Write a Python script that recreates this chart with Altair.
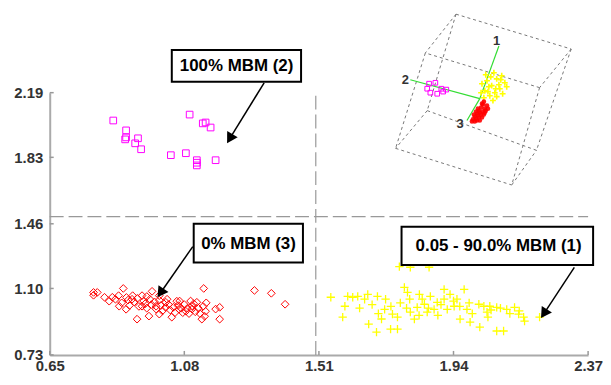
import altair as alt
import pandas as pd

X_TICKS = [0.65, 1.08, 1.51, 1.94, 2.37]
Y_TICKS = [0.73, 1.10, 1.46, 1.83, 2.19]

# 100% MBM (2) - magenta squares
mag_x = [0.853, 0.894, 0.894, 0.891, 0.923, 0.932, 0.942, 1.037, 1.085, 1.097, 1.139, 1.148, 1.164, 1.120, 1.120, 1.120, 1.180]
mag_y = [2.035, 1.980, 1.941, 1.930, 1.908, 1.936, 1.875, 1.842, 1.853, 2.068, 2.019, 2.024, 1.996, 1.814, 1.800, 1.785, 1.814]

# 0% MBM (3) - red diamonds
red_x = [0.790, 0.790, 0.802, 0.825, 0.840, 0.850, 0.885, 0.872, 0.894, 0.913, 0.929, 0.945, 0.967, 0.977, 0.990,
         1.000, 1.021, 1.040, 1.056, 1.063, 1.085, 1.104, 1.120, 1.136, 1.142, 1.148, 1.193, 1.193, 1.304, 1.358, 1.402,
         0.880, 0.900, 0.905, 0.920, 0.930, 0.935, 0.950, 0.955, 0.960, 0.970, 0.975, 0.985, 0.990, 1.000, 1.005, 1.010,
         1.020, 1.030, 1.035, 1.045, 1.050, 1.060, 1.070, 1.075, 1.080, 1.090, 1.095, 1.105, 1.110, 1.115, 1.125, 1.130,
         1.140, 1.145, 0.960, 0.945, 1.000, 1.025, 0.915, 0.895, 1.065, 1.100, 1.150, 1.180, 0.860, 0.870]
red_y = [1.062, 1.078, 1.078, 1.051, 1.029, 1.051, 1.100, 1.001, 0.984, 1.040, 0.929, 1.001, 0.946, 1.084, 1.001,
         0.957, 1.023, 0.940, 1.029, 0.984, 0.973, 1.001, 1.023, 0.929, 1.100, 0.973, 0.995, 0.929, 1.089, 1.073, 1.012,
         1.020, 1.035, 1.005, 1.025, 1.045, 1.000, 1.030, 1.015, 0.990, 1.040, 1.010, 1.025, 0.985, 1.035, 1.005, 0.975,
         0.995, 1.010, 0.980, 0.995, 0.965, 1.005, 0.990, 0.965, 1.010, 0.990, 0.960, 0.985, 1.015, 0.970, 0.990, 0.960,
         1.000, 0.945, 1.055, 1.060, 1.060, 1.040, 1.060, 1.050, 1.030, 1.030, 1.020, 0.985, 1.040, 1.060]

# 0.05 - 90.0% MBM (1) - yellow crosses
yel_x = [1.548, 1.593, 1.586, 1.602, 1.618, 1.634, 1.666, 1.656, 1.669, 1.694, 1.697, 1.720, 1.723, 1.739, 1.745,
         1.761, 1.761, 1.767, 1.802, 1.862, 1.783, 1.793, 1.802, 1.815, 1.824, 1.831, 1.847, 1.856, 1.866, 1.878,
         1.888, 1.910, 1.910, 1.929, 1.920, 1.942, 1.951, 1.961, 1.974, 1.983, 1.993, 2.021, 2.024, 2.037, 2.047,
         2.056, 2.078, 2.078, 2.100, 2.110, 2.135, 2.148, 2.164, 2.167, 2.215,
         1.640, 1.680, 1.700, 1.740, 1.770, 1.790, 1.800, 1.840, 1.860, 1.900, 1.940, 1.960, 1.990, 2.000, 2.050,
         2.060, 2.090, 2.120, 2.150, 1.890, 1.830, 1.710]
yel_y = [1.051, 1.001, 0.940, 1.056, 1.051, 1.056, 1.067, 1.040, 0.901, 0.857, 1.056, 0.984, 1.040, 0.874, 0.957,
         0.874, 0.940, 1.222, 1.218, 1.218, 1.106, 1.078, 0.968, 0.929, 0.995, 1.067, 1.012, 0.968, 1.056, 0.984,
         1.023, 1.095, 1.040, 1.067, 0.984, 1.001, 1.040, 0.929, 1.095, 0.984, 0.912, 1.012, 0.885, 1.001, 0.968,
         1.001, 0.995, 0.863, 0.863, 0.984, 0.995, 0.957, 0.940, 0.918, 0.940,
         0.990, 1.010, 0.960, 1.000, 1.020, 0.990, 1.040, 1.040, 0.990, 1.010, 1.030, 1.000, 1.020, 0.960, 0.940,
         0.980, 0.990, 0.960, 0.975, 0.950, 0.950, 0.930]

# divider lines
div_x = 1.50
div_y = 1.50

# annotation boxes: label, x1, x2, y1, y2, text x, text y
box_text = ["100% MBM (2)", "0% MBM (3)", "0.05 - 90.0% MBM (1)"]
box_x1 = [1.040, 1.110, 1.774]
box_x2 = [1.453, 1.459, 2.386]
box_y1 = [2.251, 1.244, 1.230]
box_y2 = [2.428, 1.460, 1.443]
box_tx = [1.247, 1.285, 2.084]
box_ty = [2.339, 1.349, 1.334]

# arrows: start, head centre, head angle
arr_x1 = [1.335, 1.107, 2.326]
arr_y1 = [2.245, 1.333, 1.217]
arr_x2 = [1.228, 1.007, 2.232]
arr_y2 = [1.942, 1.083, 0.968]
arr_ang = [210.5, 215.0, 213.4]

# 3-D inset (projected)
cube_v = {"P1": (1.948, 2.627), "P2": (2.316, 2.433), "P3": (2.215, 2.218), "A": (1.850, 2.411),
          "H": (1.856, 2.090), "F": (2.205, 1.869), "E": (2.126, 1.676), "C": (1.755, 1.880)}
cube_e = [("P1", "P2"), ("P1", "A"), ("P2", "P3"), ("P3", "A"), ("C", "E"), ("E", "F"), ("F", "H"), ("H", "C"),
          ("P1", "H"), ("P2", "F"), ("P3", "E"), ("A", "C")]

ax_ox, ax_oy = 2.024, 2.157
ax_ex = [2.085, 1.802, 1.983]
ax_ey = [2.450, 2.262, 2.035]
ax_lbl = ["1", "2", "3"]
ax_lx = [2.078, 1.786, 1.961]
ax_ly = [2.478, 2.262, 2.013]

in_yel_x = [2.062, 2.047, 2.078, 2.094, 2.040, 2.056, 2.072, 2.088, 2.104, 2.031, 2.069, 2.053, 2.078, 2.037,
            2.097, 2.059, 2.085, 2.043, 2.110, 2.066, 2.028, 2.075, 2.050, 2.091]
in_yel_y = [2.229, 2.256, 2.267, 2.284, 2.201, 2.173, 2.190, 2.212, 2.245, 2.240, 2.301, 2.223, 2.168, 2.162,
            2.184, 2.278, 2.234, 2.290, 2.223, 2.146, 2.190, 2.212, 2.196, 2.262]
in_mag_x = [1.862, 1.882, 1.901, 1.917, 1.866, 1.888, 1.907, 1.856]
in_mag_y = [2.240, 2.245, 2.212, 2.207, 2.190, 2.184, 2.196, 2.212]
in_red_x = [2.034, 2.028, 2.021, 2.015, 2.008, 2.002, 2.040, 2.034, 2.028, 2.021, 2.015, 2.047, 2.043, 2.037,
            2.031, 2.024, 2.008, 2.050, 2.018, 2.012, 2.005, 2.037, 2.031, 2.024, 2.018, 2.012, 2.040, 1.999]
in_red_y = [2.124, 2.107, 2.090, 2.074, 2.057, 2.041, 2.101, 2.085, 2.068, 2.052, 2.035, 2.118, 2.090, 2.068,
            2.052, 2.035, 2.030, 2.101, 2.101, 2.085, 2.068, 2.140, 2.129, 2.079, 2.063, 2.046, 2.079, 2.030]

FONT = "Liberation Sans, Arial, Helvetica, sans-serif"

xs = alt.Scale(domain=[0.65, 2.37], nice=False, zero=False)
ys = alt.Scale(domain=[0.73, 2.19], nice=False, zero=False)
common_axis = dict(title=None, grid=False, ticks=False, tickSize=0, domainColor="#aaaaaa", domainWidth=2,
                   labelFont=FONT, labelFontSize=15, labelFontWeight="bold", labelColor="#333333",
                   labelOverlap=False, labelFlush=False, format=".2f")
xaxis = alt.Axis(values=X_TICKS, labelPadding=4, **common_axis)
yaxis = alt.Axis(values=Y_TICKS, labelPadding=7, **common_axis)


def X(f):
    return alt.X(f, type="quantitative", scale=xs, axis=xaxis)


def Y(f):
    return alt.Y(f, type="quantitative", scale=ys, axis=yaxis)


mag = pd.DataFrame({"x": mag_x, "y": mag_y})
red = pd.DataFrame({"x": red_x, "y": red_y})
yel = pd.DataFrame({"x": yel_x, "y": yel_y})
boxes = pd.DataFrame({"t": box_text, "x1": box_x1, "x2": box_x2, "y1": box_y1, "y2": box_y2,
                      "tx": box_tx, "ty": box_ty})
arrows = pd.DataFrame({"x1": arr_x1, "y1": arr_y1, "x2": arr_x2, "y2": arr_y2, "a": arr_ang})
edges = pd.DataFrame({"x1": [cube_v[a][0] for a, b in cube_e], "y1": [cube_v[a][1] for a, b in cube_e],
                      "x2": [cube_v[b][0] for a, b in cube_e], "y2": [cube_v[b][1] for a, b in cube_e]})
axes3d = pd.DataFrame({"x1": [ax_ox] * 3, "y1": [ax_oy] * 3, "x2": ax_ex, "y2": ax_ey,
                       "l": ax_lbl, "lx": ax_lx, "ly": ax_ly})
iy = pd.DataFrame({"x": in_yel_x, "y": in_yel_y})
im = pd.DataFrame({"x": in_mag_x, "y": in_mag_y})
ir = pd.DataFrame({"x": in_red_x, "y": in_red_y})
ticks_x = pd.DataFrame({"v": X_TICKS})
ticks_y = pd.DataFrame({"v": Y_TICKS})
div = pd.DataFrame({"x": [div_x], "y": [div_y], "xa": [0.65], "xb": [2.37], "ya": [0.73], "yb": [2.19]})

plus = "M-1,0L1,0M0,-1L0,1"

layers = [
    alt.Chart(div).mark_rule(color="#999999", strokeWidth=1.2, strokeDash=[14, 5]).encode(
        x=X("x"), y=Y("ya"), y2="yb"),
    alt.Chart(div).mark_rule(color="#999999", strokeWidth=1.2, strokeDash=[14, 5]).encode(
        y=Y("y"), x=X("xa"), x2="xb"),
    alt.Chart(yel).mark_point(shape=plus, filled=False, color="#ffff00", size=70, strokeWidth=1.3, opacity=1).encode(
        x=X("x"), y=Y("y")),
    alt.Chart(red).mark_point(shape="diamond", filled=False, color="#ff0000", size=60, strokeWidth=1, opacity=1).encode(
        x=X("x"), y=Y("y")),
    alt.Chart(mag).mark_point(shape="square", filled=False, color="#ff00ff", size=45, strokeWidth=1, opacity=1).encode(
        x=X("x"), y=Y("y")),
    # inset
    alt.Chart(edges).mark_rule(color="#777777", strokeWidth=1, strokeDash=[3, 3]).encode(
        x=X("x1"), y=Y("y1"), x2="x2", y2="y2"),
    alt.Chart(axes3d).mark_rule(color="#33dd33", strokeWidth=1.2).encode(
        x=X("x1"), y=Y("y1"), x2="x2", y2="y2"),
    alt.Chart(im).mark_point(shape="square", filled=False, color="#ff00ff", size=22, strokeWidth=1, opacity=1).encode(
        x=X("x"), y=Y("y")),
    alt.Chart(iy).mark_point(shape=plus, filled=False, color="#ffff00", size=35, strokeWidth=1.6, opacity=1).encode(
        x=X("x"), y=Y("y")),
    alt.Chart(ir).mark_point(shape="circle", filled=True, color="#ff0000", size=22, opacity=0.9).encode(
        x=X("x"), y=Y("y")),
    alt.Chart(axes3d).mark_text(font=FONT, fontSize=13, fontWeight="bold", color="#333333").encode(
        x=X("lx"), y=Y("ly"), text="l"),
    # annotations
    alt.Chart(boxes).mark_rect(fill="white", stroke="black", strokeWidth=2).encode(
        x=X("x1"), x2="x2", y=Y("y1"), y2="y2"),
    alt.Chart(boxes).mark_text(font=FONT, fontSize=17, fontWeight="bold", color="black").encode(
        x=X("tx"), y=Y("ty"), text="t"),
    alt.Chart(arrows).mark_rule(color="black", strokeWidth=1.5).encode(
        x=X("x1"), y=Y("y1"), x2="x2", y2="y2"),
    alt.Chart(arrows).mark_point(shape="triangle", filled=True, color="black", size=150, opacity=1).encode(
        x=X("x2"), y=Y("y2"), angle=alt.Angle("a:Q", scale=None)),
    # inward ticks
    alt.Chart(ticks_x).mark_rule(color="#999999", strokeWidth=1.5).encode(
        x=X("v"), y=alt.value(264), y2=alt.value(260)),
    alt.Chart(ticks_y).mark_rule(color="#999999", strokeWidth=1.5).encode(
        y=Y("v"), x=alt.value(0), x2=alt.value(4)),
]

chart = alt.layer(*layers).properties(
    width=542, height=264,
    autosize=alt.AutoSizeParams(type="none"),
    padding={"left": 42, "top": 84, "right": 15, "bottom": 21},
).configure_view(stroke=None)

chart.save("out.html", embed_options={"renderer": "svg", "actions": False})
